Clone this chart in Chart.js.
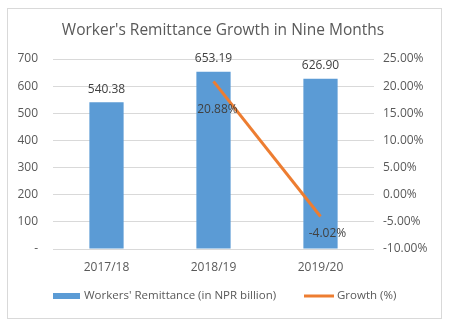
<!DOCTYPE html>
<html>
<head>
<meta charset="utf-8">
<script src="https://cdn.jsdelivr.net/npm/chart.js@4"></script>
<style>
  html, body { margin: 0; padding: 0; background: #ffffff; }
  #wrap { position: relative; width: 449px; height: 324px; }
</style>
</head>
<body>
<div id="wrap"><canvas id="remitChart" width="449" height="324"></canvas></div>
<script>
// Remesas y crecimiento (nueve meses)
const years = ['2017/18', '2018/19', '2019/20'];
const remittance = [540.38, 653.19, 626.90];      // mil millones NPR
const growth = [null, 20.88, -4.02];               // %
const leftTicks = [0, 100, 200, 300, 400, 500, 600, 700];
const rightTicks = [-10, -5, 0, 5, 10, 15, 20, 25];

const FONT = '"Open Sans", sans-serif';
const GREY = '#595959';

// desplazamiento manual de las etiquetas de crecimiento
const growthLabelShift = [null, { dx: 4, dy: 28 }, { dx: 7, dy: 17 }];

// marco, título y leyenda dibujados a mano
const frame = {
    id: 'frame',
    beforeDraw(chart) {
        const c = chart.ctx;
        c.save();
        c.strokeStyle = '#d9d9d9';
        c.lineWidth = 1;
        c.strokeRect(7.5, 8.5, 434, 310);
        c.fillStyle = GREY;
        c.font = '15.5px ' + FONT;
        c.textAlign = 'center';
        c.textBaseline = 'middle';
        c.fillText("Worker's Remittance Growth in Nine Months", 223, 31);
        c.restore();
    },
    afterDraw(chart) {
        const c = chart.ctx;
        const ds = chart.data.datasets;
        c.save();
        c.font = '11.5px ' + FONT;
        c.fillStyle = GREY;
        c.textBaseline = 'middle';
        c.fillStyle = ds[0].backgroundColor;
        c.fillRect(53, 293, 27, 6);
        c.fillStyle = GREY;
        c.fillText(ds[0].label, 84, 296);
        c.strokeStyle = ds[1].borderColor;
        c.lineWidth = 3;
        c.beginPath();
        c.moveTo(304, 296);
        c.lineTo(334, 296);
        c.stroke();
        c.fillText(ds[1].label, 337, 296);
        c.restore();
    }
};

// etiquetas de valor
const valueLabels = {
    id: 'valueLabels',
    afterDatasetsDraw(chart) {
        const c = chart.ctx;
        c.save();
        c.font = '12px ' + FONT;
        c.fillStyle = '#404040';
        c.textAlign = 'center';
        c.textBaseline = 'middle';
        chart.getDatasetMeta(0).data.forEach((bar, i) => {
            c.fillText(remittance[i].toFixed(2), bar.x, bar.y - 13);
        });
        chart.getDatasetMeta(1).data.forEach((pt, i) => {
            if (growth[i] === null) return;
            const s = growthLabelShift[i];
            c.fillText(growth[i].toFixed(2) + '%', pt.x + s.dx, pt.y + s.dy);
        });
        c.restore();
    }
};

const ctx = document.getElementById('remitChart').getContext('2d');
const remitChart = new Chart(ctx, {
    type: 'bar',
    data: {
        labels: years,
        datasets: [{
            type: 'bar',
            label: "Workers' Remittance (in NPR billion)",
            data: remittance,
            backgroundColor: '#5b9bd5',
            barPercentage: 0.32,
            categoryPercentage: 1,
            yAxisID: 'y',
            order: 1
        }, {
            type: 'line',
            label: 'Growth (%)',
            data: growth,
            borderColor: '#ed7d31',
            backgroundColor: '#ed7d31',
            borderWidth: 3,
            pointRadius: 0,
            tension: 0,
            yAxisID: 'y1',
            order: 0
        }]
    },
    options: {
        responsive: false,
        animation: false,
        layout: { padding: { top: 59, left: 0, right: 0, bottom: 0 } },
        plugins: {
            legend: { display: false },
            title: { display: false },
            tooltip: { enabled: false }
        },
        scales: {
            x: {
                grid: { display: false, drawTicks: false },
                border: { display: false },
                ticks: { color: GREY, font: { family: FONT, size: 12 }, padding: 11 },
                afterFit(s) { s.height = 75; }
            },
            y: {
                position: 'left',
                min: 0,
                max: 700,
                afterBuildTicks(s) { s.ticks = leftTicks.map(v => ({ value: v })); },
                grid: { color: '#d9d9d9', drawTicks: false },
                border: { display: false },
                ticks: {
                    color: GREY,
                    font: { family: FONT, size: 12 },
                    padding: 15,
                    callback: v => v === 0 ? '-' : v
                },
                afterFit(s) { s.width = 53; }
            },
            y1: {
                position: 'right',
                min: -10,
                max: 25,
                afterBuildTicks(s) { s.ticks = rightTicks.map(v => ({ value: v })); },
                grid: { display: false, drawTicks: false },
                border: { display: false },
                ticks: {
                    color: GREY,
                    font: { family: FONT, size: 12 },
                    padding: 9,
                    callback: v => v.toFixed(2) + '%'
                },
                afterFit(s) { s.width = 75; }
            }
        }
    },
    plugins: [frame, valueLabels]
});
</script>
</body>
</html>
